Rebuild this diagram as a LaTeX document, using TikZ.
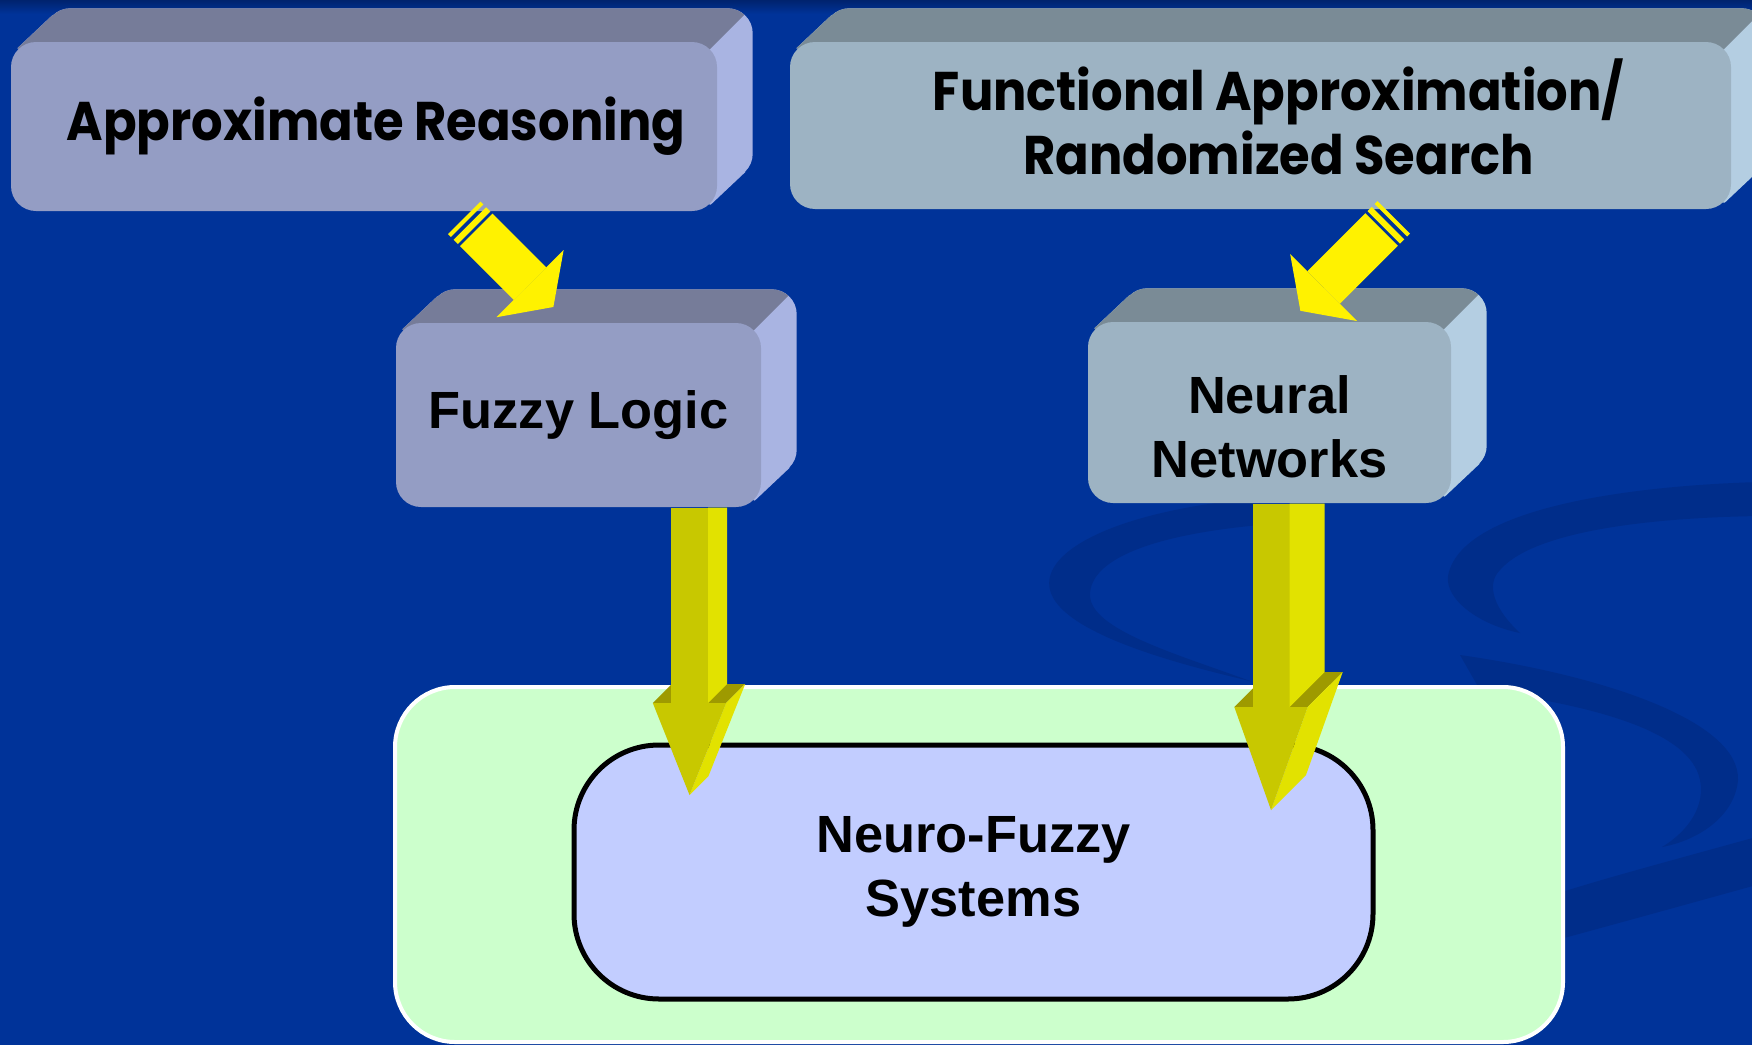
\documentclass[tikz,border=0pt]{standalone}
\usepackage{fontspec}
\setmainfont{Liberation Sans}
\newfontfamily\gothicfont[FakeStretch=0.91]{Poppins}
\usetikzlibrary{shapes,arrows,backgrounds,calc}

\definecolor{slideblue}{HTML}{003399}
\definecolor{slidetop}{HTML}{00236E}
\definecolor{swoosh}{HTML}{002D8A}
\definecolor{lavfront}{HTML}{949DC4}
\definecolor{lavtop}{HTML}{767C99}
\definecolor{lavside}{HTML}{A9B4E2}
\definecolor{greyfront}{HTML}{9DB3C3}
\definecolor{greytop}{HTML}{7A8B96}
\definecolor{greyside}{HTML}{B4CEE2}
\definecolor{mint}{HTML}{CCFFCC}
\definecolor{periwinkle}{HTML}{C2CDFF}
\definecolor{olivedark}{HTML}{C8C800}
\definecolor{olivelight}{HTML}{E2E200}
\definecolor{olivetop}{HTML}{9E9A00}

\tikzstyle{block} = [rectangle, rounded corners=0.25cm, inner sep=0pt, align=center, text centered, font=\fontsize{14.9pt}{18.2pt}\selectfont\bfseries]
\tikzstyle{lavblock} = [block, fill=lavfront]
\tikzstyle{greyblock} = [block, fill=greyfront]
\tikzstyle{gothic} = [font=\fontsize{15.5pt}{18.2pt}\selectfont\gothicfont\bfseries]
\tikzstyle{frame} = [rectangle, rounded corners=0.6cm, fill=mint, draw=white, line width=0.04cm, minimum width=11.68cm, minimum height=3.55cm]
\tikzstyle{goal} = [block, rounded corners=0.85cm, fill=periwinkle, draw=black, line width=0.05cm, minimum width=7.99cm, minimum height=2.54cm]

% side and top faces of the raised boxes
\newcommand{\extrude}[2]{%
  \fill[#2, rounded corners=0.25cm] ([shift={(0.35,0.33)}]#1.south west) rectangle ([shift={(0.35,0.33)}]#1.north east);
  \fill[#2] ([shift={(0.07,-0.07)}]#1.north west) -- ([shift={(0.42,0.26)}]#1.north west)
    -- ([shift={(0.28,0.40)}]#1.south east) -- ([shift={(-0.07,0.07)}]#1.south east) -- cycle;}
\newcommand{\bevel}[3]{%
  \extrude{#1}{#3}
  \begin{scope}
    \clip ([shift={(-12,-12)}]#1.north east) -- ([shift={(2,2)}]#1.north east) -- ([shift={(-12,2)}]#1.north east) -- cycle;
    \extrude{#1}{#2}
  \end{scope}}

% flat arrow with two stripes at its tail
\newcommand{\stripearrow}[3]{%
  \begin{scope}[shift={(#1)}, rotate=#2]
    \fill[yellow] (-0.17,-0.23) rectangle (-0.13,0.23);
    \fill[yellow] (-0.09,-0.23) rectangle (-0.03,0.23);
    \fill[yellow] (0,-0.23) rectangle (#3,0.23);
    \fill[yellow] (#3,-0.475) -- (#3+0.33,0) -- (#3,0.475) -- cycle;
  \end{scope}}

% thick 3d arrow pointing down: tail, tip, head length, depth
\newcommand{\fatdown}[4]{%
  \fill[olivetop] let \p1=(#1), \p2=(#2) in (\x2-0.367cm, \y2+#3) -- (\x2-0.367cm+#4, \y2+#3+#4)
    -- (\x2+0.367cm+#4, \y2+#3+#4) -- (\x2+0.367cm, \y2+#3) -- cycle;
  \fill[olivedark] let \p1=(#1), \p2=(#2) in (\x2-0.185cm, \y1) rectangle (\x2+0.185cm, \y2+#3);
  \fill[olivelight] let \p1=(#1), \p2=(#2) in (\x2+0.185cm, \y1) -- (\x2+0.185cm+#4, \y1)
    -- (\x2+0.185cm+#4, \y2+#3+#4) -- (\x2+0.185cm, \y2+#3) -- cycle;
  \fill[olivelight] let \p2=(#2) in (\x2+0.367cm, \y2+#3) -- (\x2+0.367cm+#4, \y2+#3+#4)
    -- (\x2+#4, \y2+#4) -- (\x2, \y2) -- cycle;
  \fill[olivedark] let \p2=(#2) in (\x2-0.367cm, \y2+#3) -- (\x2+0.367cm, \y2+#3) -- (\x2, \y2) -- cycle;}

\begin{document}
\begin{tikzpicture}
	\useasboundingbox (0,0) rectangle (17.52,-10.45);
	\begin{pgfonlayer}{background}
		\fill[slideblue] (0,0) rectangle (17.52,-10.45);
		\shade[top color=slidetop, bottom color=slideblue] (0,0) rectangle (17.52,-0.14);
		% background swirls
		\fill[swoosh] (17.6,-4.82) .. controls (16.2,-4.86) and (14.6,-5.1) .. (14.48,-5.76)
			.. controls (14.45,-6.0) and (14.8,-6.25) .. (15.2,-6.33)
			.. controls (14.95,-6.1) and (14.85,-5.85) .. (15.0,-5.7)
			.. controls (15.3,-5.35) and (16.3,-5.18) .. (17.6,-5.16) -- cycle;
		\fill[swoosh] (12.6,-4.98) .. controls (11.2,-5.1) and (10.4,-5.5) .. (10.5,-5.9)
			.. controls (10.6,-6.3) and (11.6,-6.6) .. (12.5,-6.81)
			.. controls (11.8,-6.55) and (10.9,-6.3) .. (10.9,-5.95)
			.. controls (10.9,-5.6) and (11.5,-5.35) .. (12.6,-5.25) -- cycle;
		\fill[swoosh] (14.6,-6.55) .. controls (16.0,-6.75) and (17.4,-7.2) .. (17.38,-7.8)
			.. controls (17.35,-8.15) and (17.0,-8.4) .. (16.62,-8.47)
			.. controls (16.9,-8.3) and (17.05,-8.05) .. (17.0,-7.8)
			.. controls (16.9,-7.3) and (15.9,-7.05) .. (14.8,-6.9) -- cycle;
		\fill[swoosh] (15.2,-9.05) .. controls (16.0,-8.8) .. (17.6,-8.36) -- (17.6,-8.84)
			.. controls (16.3,-9.2) .. (15.2,-9.5) -- cycle;
	\end{pgfonlayer}

	\node [lavblock, gothic, minimum width=7.06cm, minimum height=1.69cm] (reason) at (3.64,-1.265) {\hspace*{0.24cm}Approximate Reasoning};
	\node [greyblock, gothic, minimum width=9.41cm, minimum height=1.67cm] (funcapprox) at (12.605,-1.255) {\hspace*{0.36cm}Functional Approximation/\\\hspace*{0.36cm}Randomized Search\rule[-0.17cm]{0pt}{0.17cm}};
	\node [lavblock, minimum width=3.65cm, minimum height=1.84cm] (fuzzy) at (5.785,-4.15) {Fuzzy Logic};
	\node [greyblock, minimum width=3.63cm, minimum height=1.81cm] (neural) at (12.695,-4.125) {\rule{0pt}{0.67cm}Neural\\Networks};
	\node [frame] (nfsframe) at (9.79,-8.645) {};
	\node [goal] (nfs) at (9.735,-8.72) {Neuro-Fuzzy\\Systems};

	\begin{pgfonlayer}{background}
		\bevel{reason}{lavtop}{lavside}
		\bevel{fuzzy}{lavtop}{lavside}
		\bevel{funcapprox}{greytop}{greyside}
		\bevel{neural}{greytop}{greyside}
	\end{pgfonlayer}

	\coordinate (reason-out) at ([shift={(1.123,-0.182)}]reason.south);
	\coordinate (func-out) at ([shift={(1.212,-0.198)}]funcapprox.south);
	\coordinate (nfs-left) at ([shift={(-2.84,0.77)}]nfs.center);
	\coordinate (nfs-right) at ([shift={(2.975,0.62)}]nfs.center);

	\stripearrow{reason-out}{-45}{0.76}
	\stripearrow{func-out}{-135}{0.82}
	\fatdown{fuzzy.south}{nfs-left}{0.92cm}{0.19cm}
	\fatdown{neural.south}{nfs-right}{1.03cm}{0.35cm}
\end{tikzpicture}
\end{document}
